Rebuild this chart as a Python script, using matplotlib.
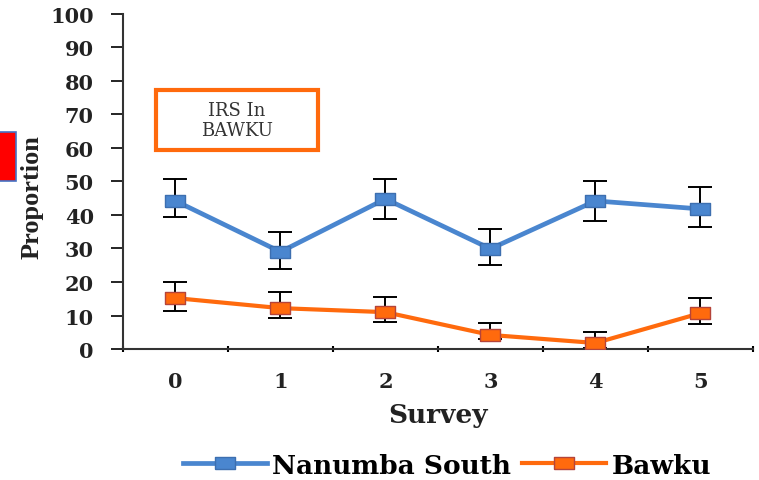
import matplotlib
matplotlib.use('Agg')
import matplotlib.pyplot as plt
from matplotlib.patches import Rectangle

surveys = [0, 1, 2, 3, 4, 5]
nanumba = [44.2, 29.0, 44.8, 29.9, 44.2, 41.8]
nanumba_hi = [50.7, 35.0, 50.7, 35.8, 50.1, 48.3]
nanumba_lo = [39.4, 24.0, 38.8, 25.0, 38.2, 36.4]
bawku = [15.2, 12.2, 11.0, 4.2, 1.8, 10.7]
bawku_hi = [20.0, 17.0, 15.5, 7.8, 5.0, 15.2]
bawku_lo = [11.3, 9.3, 8.0, 3.0, 0.3, 7.5]
yticks = list(range(0, 101, 10))

blue = '#4A86CF'
orange = '#FF6A0D'
tick_font = dict(family='DejaVu Serif', weight='bold')

# wide rectangle marker, like the stretched picture
rect = [(-1.5, -1), (1.5, -1), (1.5, 1), (-1.5, 1), (-1.5, -1)]

fig = plt.figure(figsize=(7.59, 4.81), dpi=100)
ax = fig.add_axes([0.162, 0.2723, 0.830, 0.6967])

def draw(vals, lo, hi, color, edge, lw, label):
    err = [[v - l for v, l in zip(vals, lo)], [h - v for v, h in zip(vals, hi)]]
    ax.errorbar(surveys, vals, yerr=err, fmt='none', ecolor='black',
                elinewidth=1.4, capsize=8.5, capthick=1.4, zorder=2)
    return ax.plot(surveys, vals, color=color, lw=lw, marker=rect, ms=14,
                   mfc=color, mec=edge, mew=1.0, label=label, zorder=3)[0]

h1 = draw(nanumba, nanumba_lo, nanumba_hi, blue, '#3D6FB0', 3.4, 'Nanumba South')
h2 = draw(bawku, bawku_lo, bawku_hi, orange, '#B5443A', 3.0, 'Bawku')

ax.set_xlim(-0.5, 5.5)
ax.set_ylim(0, 100)
ax.set_yticks(yticks)
ax.set_xticks(surveys)
ax.set_xticks([x + 0.5 for x in [-1] + surveys], minor=True)
ax.tick_params(axis='x', which='major', length=0, pad=16)
ax.tick_params(axis='x', which='minor', length=5, width=1.5, direction='inout')
ax.tick_params(axis='y', length=9, width=1.2, direction='out', pad=12)
for lab in ax.get_xticklabels() + ax.get_yticklabels():
    lab.set_fontfamily('DejaVu Serif')
    lab.set_fontweight('bold')
    lab.set_fontsize(15)
    lab.set_color('#222222')
for s in ['top', 'right']:
    ax.spines[s].set_visible(False)
for s in ['left', 'bottom']:
    ax.spines[s].set_linewidth(1.5)
    ax.spines[s].set_color('#333333')

ax.set_xlabel('Survey', fontsize=19, labelpad=8, color='#222222', **tick_font)
fig.text(0.042, 0.59, 'Proportion', rotation=90, ha='center', va='center',
         family='Liberation Serif', weight='bold', fontsize=19, color='#222222')

# annotation box
fig.patches.append(Rectangle((156 / 759, 1 - 151 / 481), 162 / 759, 60 / 481,
                             transform=fig.transFigure, fill=False,
                             edgecolor='#FF6A0D', lw=3))
fig.text(237 / 759, 1 - 121 / 481, 'IRS In\nBAWKU', ha='center', va='center',
         family='DejaVu Serif', fontsize=13, color='#333333', linespacing=1.2)

# red box at the left edge
fig.patches.append(Rectangle((-0.01, 1 - 182 / 481), 24 / 759, 49 / 481,
                             transform=fig.transFigure, facecolor='#FF0000',
                             edgecolor='#4472C4', lw=1.2))

fig.legend(handles=[h1, h2], loc='center', bbox_to_anchor=(447 / 759, 1 - 466 / 481),
           ncol=2, frameon=False, handlelength=3.2, handletextpad=0.2,
           columnspacing=0.4, prop=dict(family='DejaVu Serif', weight='bold', size=19))

fig.savefig('out.png', dpi=100)
